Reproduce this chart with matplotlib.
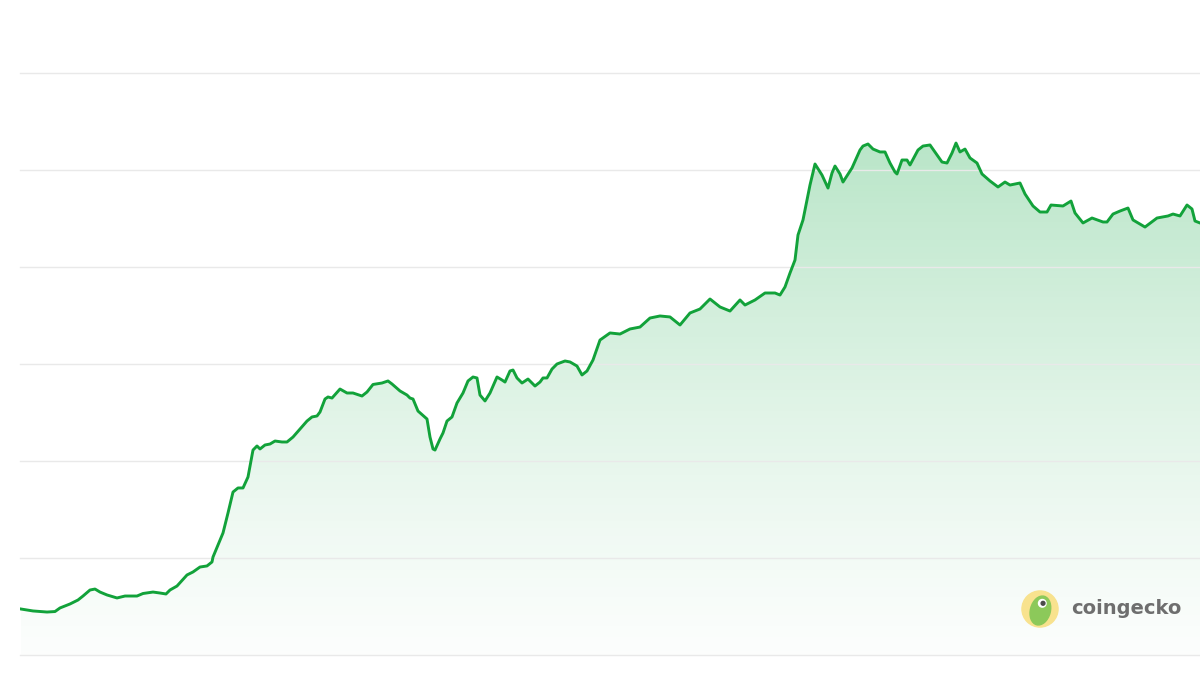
import numpy as np
import matplotlib
matplotlib.use("Agg")
import matplotlib.pyplot as plt
from matplotlib.patches import Circle, Ellipse

# price series (time in arbitrary units, price in grid units)
t = [1, 13, 27, 35, 40, 50, 58, 63, 70, 75, 80, 87, 97, 105, 117, 123, 133, 140, 146, 150,
     157, 167, 173, 180, 187, 192, 193, 203, 208, 213, 218, 223, 228, 233, 237, 240, 245, 250,
     255, 262, 267, 273, 280, 287, 292, 297, 300, 305, 308, 312, 320, 327, 333, 342, 347, 353,
     362, 368, 372, 380, 387, 390, 393, 398, 407, 410, 413, 415, 420, 423, 427, 432, 437, 443,
     448, 453, 457, 460, 465, 470, 477, 482, 485, 490, 493, 497, 502, 508, 515, 520, 523, 527,
     532, 537, 545, 550, 557, 562, 567, 573, 580, 590, 600, 610, 620, 630, 640, 650, 660, 670,
     680, 690, 700, 710, 720, 725, 735, 745, 755, 760, 765, 770, 775, 778, 783, 790, 795, 802,
     808, 812, 815, 820, 823, 832, 840, 843, 848, 853, 860, 865, 870, 875, 877, 882, 887, 890,
     898, 903, 910, 917, 922, 927, 932, 936, 940, 945, 950, 957, 962, 970, 978, 985, 990, 1000,
     1005, 1013, 1020, 1027, 1031, 1043, 1051, 1055, 1063, 1072, 1083, 1087, 1093, 1100, 1108,
     1113, 1125, 1137, 1148, 1153, 1160, 1167, 1172, 1175, 1180]
price = [4.74, 4.54, 4.43, 4.48, 4.85, 5.26, 5.67, 6.08, 6.70, 6.80, 6.49, 6.19, 5.88, 6.08,
         6.08, 6.34, 6.49, 6.39, 6.29, 6.70, 7.11, 8.25, 8.56, 9.07, 9.18, 9.59, 10.10, 12.58,
         14.64, 16.80, 17.22, 17.22, 18.35, 21.13, 21.55, 21.24, 21.65, 21.75, 22.06, 21.96,
         21.96, 22.47, 23.30, 24.12, 24.54, 24.64, 25.05, 26.39, 26.60, 26.49, 27.42, 27.01,
         27.01, 26.70, 27.11, 27.89, 28.04, 28.25, 27.94, 27.22, 26.80, 26.49, 26.39, 25.15,
         24.33, 22.47, 21.24, 21.13, 22.27, 22.89, 24.12, 24.54, 25.98, 27.01, 28.25, 28.66,
         28.56, 26.80, 26.19, 27.01, 28.66, 28.35, 28.14, 29.28, 29.38, 28.56, 28.04, 28.45,
         27.73, 28.14, 28.56, 28.56, 29.48, 30.00, 30.31, 30.21, 29.79, 28.87, 29.28, 30.41,
         32.47, 33.20, 33.09, 33.61, 33.81, 34.74, 34.95, 34.85, 34.02, 35.26, 35.67, 36.70,
         35.88, 35.46, 36.60, 36.08, 36.60, 37.32, 37.32, 37.11, 37.94, 39.38, 40.72, 43.30,
         44.85, 48.45, 50.62, 49.48, 48.14, 49.69, 50.41, 49.59, 48.76, 50.21, 52.06, 52.47,
         52.68, 52.16, 51.86, 51.86, 50.72, 49.79, 49.59, 51.03, 51.03, 50.52, 52.06, 52.47,
         52.58, 51.55, 50.82, 50.72, 51.75, 52.78, 51.86, 52.16, 51.24, 50.72, 49.59, 48.87,
         48.25, 48.76, 48.45, 48.66, 47.53, 46.29, 45.67, 45.67, 46.39, 46.29, 46.80, 45.57,
         44.54, 45.05, 44.64, 44.64, 45.46, 45.77, 46.08, 44.85, 44.12, 45.05, 45.26, 45.46,
         45.26, 46.39, 45.98, 44.74, 44.54]
grid_levels = [0, 10, 20, 30, 40, 50, 60]

green = "#12a23a"

fig = plt.figure(figsize=(12, 6.78), dpi=100)
fig.patch.set_facecolor("white")
ax = fig.add_axes([20 / 1200, 23 / 678, 1180 / 1200, 582 / 678])
ax.set_xlim(0, 1180)
ax.set_ylim(0, 60)
ax.axis("off")

for g in grid_levels:
    ax.axhline(g, color="#e9e9e9", lw=1.0, zorder=2, clip_on=False)

# gradient fill under the line
poly = ax.fill_between(t, price, 0, color="none", lw=0)
grad = np.linspace(0, 1, 256).reshape(-1, 1)
rgba = np.zeros((256, 1, 4))
rgba[..., 0] = 0.07
rgba[..., 1] = 0.66
rgba[..., 2] = 0.27
rgba[..., 3] = 0.015 + 0.28 * grad ** 1.2
img = ax.imshow(rgba, extent=[0, 1180, 0, 53], origin="lower", aspect="auto", zorder=1)
img.set_clip_path(poly.get_paths()[0], transform=ax.transData)

ax.plot(t, price, color=green, lw=2.1, zorder=3, solid_joinstyle="round")

# coingecko logo
lax = fig.add_axes([1021 / 1200, (678 - 628) / 678, 38 / 1200, 38 / 678])
lax.set_xlim(-1, 1)
lax.set_ylim(-1, 1)
lax.set_aspect("equal")
lax.axis("off")
lax.add_patch(Circle((0, 0), 0.95, color="#f8e28e"))
lax.add_patch(Ellipse((0.02, -0.08), 1.05, 1.55, angle=-15, color="#8cc95a"))
lax.add_patch(Circle((0.12, 0.3), 0.2, color="white"))
lax.add_patch(Circle((0.16, 0.3), 0.1, color="#4a4a4a"))

fig.text(1071 / 1200, (678 - 608) / 678, "coingecko", fontsize=14, fontweight="bold",
         color="#6e6e6e", family="DejaVu Sans", va="center", ha="left")

fig.savefig("out.png", dpi=100)
